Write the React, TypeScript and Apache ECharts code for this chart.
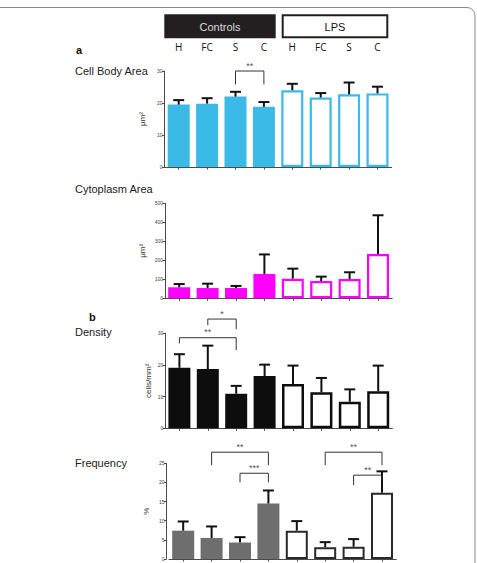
import React, { useEffect, useRef } from "react";
import * as echarts from "echarts";

// Group labels along the x axis (4 control regions, then 4 LPS regions)
const categories = ["H", "FC", "S", "C", "H", "FC", "S", "C"];
const groupNames = ["Controls", "LPS"];
const controlsCount = 4;

// Cell body area (µm²): mean and error
const cellBodyMean = [19.5, 19.8, 22.0, 18.8, 24.0, 21.7, 22.7, 23.0];
const cellBodyErr = [1.4, 1.7, 1.5, 1.5, 2.0, 1.4, 3.7, 2.1];

// Cytoplasm area (µm²)
const cytoMean = [58, 54, 54, 128, 103, 91, 101, 233];
const cytoErr = [17, 23, 11, 103, 53, 23, 36, 204];

// Density (cells/mm²)
const densityMean = [19.1, 18.7, 10.9, 16.5, 14.0, 11.4, 8.4, 11.7];
const densityErr = [4.3, 7.4, 2.5, 3.6, 5.8, 4.5, 3.9, 8.1];

// Frequency (%)
const freqMean = [7.4, 5.5, 4.3, 14.5, 7.4, 3.1, 3.2, 17.3];
const freqErr = [2.4, 3.0, 1.4, 3.4, 2.5, 1.3, 2.0, 5.6];

// Significance brackets: [from index, to index, top value, left end, right end]
const cellBodyBrackets = [[2, 3, 30, 25.8, 25.8]];
const cellBodyStars = ["**"];
const densityBrackets = [
  [1, 2, 34.5, 32.6, 31.3],
  [0, 2, 28.6, 26.8, 24.7],
];
const densityStars = ["*", "**"];
const freqBrackets = [
  [1, 3, 27.9, 24.5, 24.5],
  [2, 3, 22.4, 20.0, 20.0],
  [5, 7, 27.9, 24.5, 24.5],
  [6, 7, 21.9, 19.3, 20.6],
];
const freqStars = ["**", "***", "**", "**"];

const FONT = "Liberation Sans, Arial, sans-serif";

type Panel = {
  mean: number[];
  err: number[];
  color: string;
  outline: string;
  border: number;
  max: number;
  interval: number;
  name: string;
  nameGap: number;
  grid: { left: number; top: number; width: number; height: number };
  yOffset: number;
  brackets?: number[][];
  stars?: string[];
};

const panels: Panel[] = [
  {
    mean: cellBodyMean, err: cellBodyErr, color: "#3bb9e7", outline: "#3bb9e7", border: 2.2,
    max: 30, interval: 10, name: "µm²", nameGap: 18,
    grid: { left: 164.5, top: 71, width: 227.2, height: 96 }, yOffset: 0,
    brackets: cellBodyBrackets, stars: cellBodyStars,
  },
  {
    mean: cytoMean, err: cytoErr, color: "#ff00ff", outline: "#ff00ff", border: 2.2,
    max: 500, interval: 100, name: "µm²", nameGap: 19,
    grid: { left: 165, top: 203.3, width: 227.2, height: 95 }, yOffset: 0,
  },
  {
    mean: densityMean, err: densityErr, color: "#0d0d0d", outline: "#0d0d0d", border: 2.5,
    max: 30, interval: 10, name: "cells/mm²", nameGap: 13,
    grid: { left: 165.2, top: 333.3, width: 227.2, height: 95 }, yOffset: 0,
    brackets: densityBrackets, stars: densityStars,
  },
  {
    mean: freqMean, err: freqErr, color: "#6e6e6e", outline: "#2a2a2a", border: 2,
    max: 25, interval: 5, name: "%", nameGap: 16,
    grid: { left: 169, top: 463.3, width: 227.2, height: 95.7 }, yOffset: 2.5,
    brackets: freqBrackets, stars: freqStars,
  },
];

function buildOption() {
  const grid: any[] = [];
  const xAxis: any[] = [];
  const yAxis: any[] = [];
  const series: any[] = [];

  panels.forEach((p, gi) => {
    grid.push({ ...p.grid, containLabel: false });
    xAxis.push({
      type: "category",
      gridIndex: gi,
      data: categories,
      axisLine: { lineStyle: { color: "#4a4a4a", width: 1 } },
      axisTick: { show: true, alignWithLabel: true, length: 2.5, interval: 0, lineStyle: { color: "#4a4a4a" } },
      axisLabel: { show: false },
      splitLine: { show: false },
    });
    yAxis.push({
      type: "value",
      gridIndex: gi,
      min: 0,
      max: p.max,
      interval: p.interval,
      offset: p.yOffset,
      name: p.name,
      nameLocation: "middle",
      nameRotate: 90,
      nameGap: p.nameGap,
      nameTextStyle: { fontSize: 8, color: "#333", fontFamily: FONT },
      axisLine: { show: true, lineStyle: { color: "#4a4a4a", width: 1 } },
      axisTick: { show: true, length: 2.5, lineStyle: { color: "#4a4a4a" } },
      axisLabel: { fontSize: 5, color: "#444", margin: 2, fontFamily: FONT },
      splitLine: { show: false },
    });

    series.push({
      type: "bar",
      xAxisIndex: gi,
      yAxisIndex: gi,
      barWidth: 22,
      data: p.mean.map((v, i) =>
        i < controlsCount
          ? { value: v, itemStyle: { color: p.color } }
          : { value: v, itemStyle: { color: "#ffffff", borderColor: p.outline, borderWidth: p.border } }
      ),
    });

    series.push({
      type: "custom",
      xAxisIndex: gi,
      yAxisIndex: gi,
      z: 5,
      clip: false,
      encode: { x: 0, y: [1, 2] },
      data: p.mean.map((v, i) => [i, v, v + p.err[i]]),
      renderItem: (_params: any, api: any) => {
        const x = api.value(0);
        const p0 = api.coord([x, api.value(1)]);
        const p1 = api.coord([x, api.value(2)]);
        const st = { stroke: "#111", lineWidth: 2 };
        return {
          type: "group",
          children: [
            { type: "line", shape: { x1: p0[0], y1: p0[1], x2: p1[0], y2: p1[1] }, style: st },
            { type: "line", shape: { x1: p1[0] - 5.5, y1: p1[1], x2: p1[0] + 5.5, y2: p1[1] }, style: st },
          ],
        };
      },
    });

    if (p.brackets) {
      const stars = p.stars || [];
      series.push({
        type: "custom",
        xAxisIndex: gi,
        yAxisIndex: gi,
        z: 6,
        clip: false,
        encode: { x: [0, 1], y: [2, 3, 4] },
        data: p.brackets,
        renderItem: (params: any, api: any) => {
          const a = api.value(0);
          const b = api.value(1);
          const top = api.value(2);
          const tl = api.coord([a, top]);
          const tr = api.coord([b, top]);
          const bl = api.coord([a, api.value(3)]);
          const br = api.coord([b, api.value(4)]);
          return {
            type: "group",
            children: [
              {
                type: "polyline",
                shape: { points: [bl, tl, tr, br] },
                style: { stroke: "#333", lineWidth: 1, fill: "none" },
              },
              {
                type: "text",
                style: {
                  text: stars[params.dataIndex],
                  x: (tl[0] + tr[0]) / 2,
                  y: tl[1] - 1,
                  align: "center",
                  verticalAlign: "bottom",
                  fontSize: 9,
                  fill: "#555",
                  fontFamily: FONT,
                },
              },
            ],
          };
        },
      });
    }
  });

  // Region labels above the top panel
  xAxis.push({
    type: "category",
    gridIndex: 0,
    position: "top",
    offset: 17.5,
    data: categories,
    axisLine: { show: false },
    axisTick: { show: false },
    axisLabel: { show: true, interval: 0, fontSize: 10, margin: 2, color: "#111", fontFamily: "Open Sans, sans-serif" },
    splitLine: { show: false },
  });

  const titleText = (text: string, x: number, y: number, bold = false) => ({
    type: "text",
    x,
    y,
    style: {
      text,
      fontSize: 11,
      fontWeight: bold ? "bold" : "normal",
      fill: bold ? "#111" : "#222",
      fontFamily: FONT,
      verticalAlign: "middle",
    },
  });

  const graphic: any[] = [
    {
      type: "rect",
      shape: { x: -10, y: 7.5, width: 485, height: 620, r: 8 },
      style: { fill: "none", stroke: "#8a8a8a", lineWidth: 1 },
      silent: true,
    },
    { type: "rect", shape: { x: 164.3, y: 14.3, width: 111.4, height: 24 }, style: { fill: "#231f20" } },
    {
      type: "rect",
      shape: { x: 282.7, y: 15.3, width: 104.6, height: 22 },
      style: { fill: "#ffffff", stroke: "#231f20", lineWidth: 2 },
    },
    {
      type: "text", x: 220, y: 27, style: {
        text: groupNames[0], fontSize: 11, fill: "#dcdcdc", fontFamily: FONT, align: "center", verticalAlign: "middle",
      },
    },
    {
      type: "text", x: 335, y: 27, style: {
        text: groupNames[1], fontSize: 11, fill: "#111", fontFamily: FONT, align: "center", verticalAlign: "middle",
      },
    },
    titleText("a", 76, 49.5, true),
    titleText("Cell Body Area", 75, 70.5),
    titleText("Cytoplasm Area", 75, 189),
    titleText("b", 89, 316.5, true),
    titleText("Density", 75, 331.5),
    titleText("Frequency", 75, 462.5),
  ];

  return {
    animation: false,
    backgroundColor: "#ffffff",
    grid,
    xAxis,
    yAxis,
    series,
    graphic,
  };
}

export default function App() {
  const ref = useRef<HTMLDivElement>(null);
  useEffect(() => {
    if (!ref.current) return;
    const chart = echarts.init(ref.current, undefined, { renderer: "svg" });
    chart.setOption(buildOption() as any);
    return () => chart.dispose();
  }, []);
  return (
    <div
      ref={ref}
      style={{ position: "fixed", left: 0, top: 0, width: 477, height: 563, background: "#fff" }}
    />
  );
}
